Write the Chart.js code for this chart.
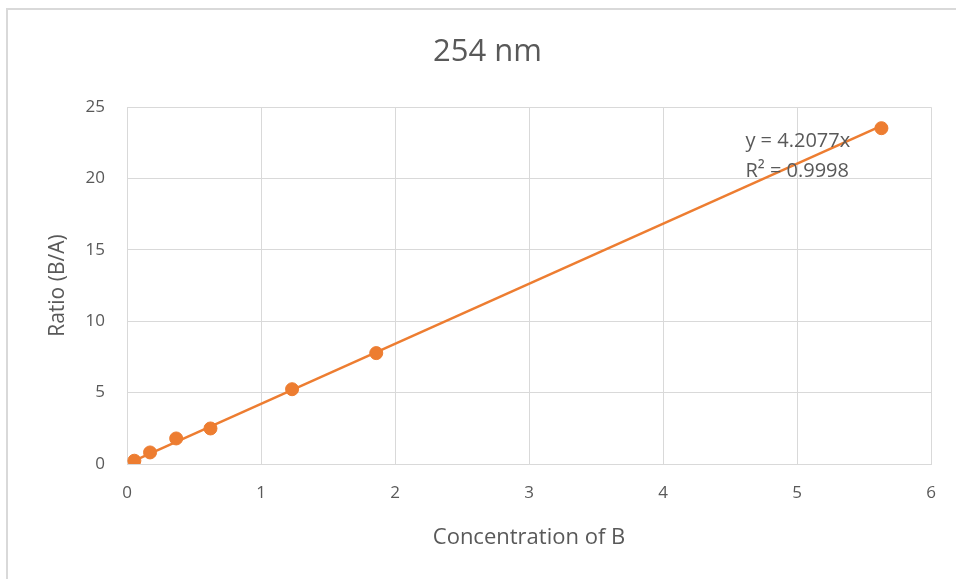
<!DOCTYPE html>
<html>
<head>
<meta charset="utf-8">
<script src="https://cdn.jsdelivr.net/npm/chart.js@4"></script>
<style>
    html, body { margin: 0; padding: 0; background: #ffffff; }
    #wrap { width: 956px; height: 579px; }
</style>
</head>
<body>
<div id="wrap"><canvas id="chart" width="956" height="579"></canvas></div>
<script>
// Datos
const concentrationB = [0.055, 0.172, 0.367, 0.623, 1.232, 1.86, 5.63];
const ratioBA = [0.23, 0.81, 1.79, 2.49, 5.24, 7.77, 23.53];

// Línea de tendencia (Excel: intersección en 0)
const trendSlope = 4.2077;
const trendR2 = 0.9998;
const trendLabels = ['y = ' + trendSlope + 'x', 'R² = ' + trendR2];

const xTicks = [0, 1, 2, 3, 4, 5, 6];
const yTicks = [0, 5, 10, 15, 20, 25];

const orange = '#ED7D31';
const gridGray = '#d9d9d9';
const textGray = '#595959';
const fontFamily = '"Open Sans", Lato, sans-serif';

const scatterPoints = concentrationB.map((x, i) => ({ x: x, y: ratioBA[i] }));
const xFirst = concentrationB[0];
const xLast = concentrationB[concentrationB.length - 1];
const trendPoints = [
    { x: xFirst, y: trendSlope * xFirst },
    { x: xLast, y: trendSlope * xLast }
];

// Marco exterior del gráfico
const outerFrame = {
    id: 'outerFrame',
    beforeDraw(chart) {
        const ctx = chart.ctx;
        ctx.save();
        ctx.fillStyle = '#ffffff';
        ctx.fillRect(0, 0, chart.width, chart.height);
        ctx.strokeStyle = gridGray;
        ctx.lineWidth = 2;
        ctx.strokeRect(7, 9, chart.width + 20, chart.height + 20);
        ctx.restore();
    }
};

// Etiqueta de la ecuación de tendencia
const trendLabel = {
    id: 'trendLabel',
    afterDatasetsDraw(chart) {
        const ctx = chart.ctx;
        const xs = chart.scales.x;
        const ys = chart.scales.y;
        const x0 = xs.getPixelForValue(4.615);
        ctx.save();
        ctx.font = '20px ' + fontFamily;
        ctx.fillStyle = textGray;
        ctx.textBaseline = 'middle';
        ctx.textAlign = 'left';
        ctx.fillText(trendLabels[0], x0, ys.getPixelForValue(22.6));
        ctx.fillText(trendLabels[1], x0, ys.getPixelForValue(20.5));
        ctx.restore();
    }
};

const ctx = document.getElementById('chart').getContext('2d');
new Chart(ctx, {
    type: 'scatter',
    data: {
        datasets: [
            {
                label: 'Trendline',
                data: trendPoints,
                showLine: true,
                borderColor: orange,
                borderWidth: 2.5,
                pointRadius: 0,
                fill: false,
                order: 2
            },
            {
                label: 'Ratio (B/A)',
                data: scatterPoints,
                backgroundColor: orange,
                borderColor: orange,
                pointRadius: 6.5,
                pointHoverRadius: 6.5,
                showLine: false,
                order: 1
            }
        ]
    },
    options: {
        responsive: false,
        animation: false,
        layout: { padding: { left: 44, right: 25, top: 0, bottom: 22 } },
        plugins: {
            legend: { display: false },
            tooltip: { enabled: false },
            title: {
                display: true,
                text: '254 nm',
                color: textGray,
                font: { family: fontFamily, size: 31, weight: 'normal' },
                padding: { top: 34, bottom: 36 }
            }
        },
        scales: {
            x: {
                type: 'linear',
                min: 0,
                max: 6,
                afterBuildTicks: (scale) => { scale.ticks = xTicks.map(v => ({ value: v })); },
                afterFit: (scale) => { scale.height = 93; },
                grid: { color: gridGray, lineWidth: 1, drawTicks: false },
                border: { color: gridGray, width: 1 },
                ticks: {
                    color: textGray,
                    padding: 19,
                    font: { family: fontFamily, size: 17 }
                },
                title: {
                    display: true,
                    text: 'Concentration of B',
                    color: textGray,
                    font: { family: fontFamily, size: 22 },
                    padding: { top: 4, bottom: 6 }
                }
            },
            y: {
                type: 'linear',
                min: 0,
                max: 25,
                afterBuildTicks: (scale) => { scale.ticks = yTicks.map(v => ({ value: v })); },
                afterFit: (scale) => { scale.width = 127 - 44; },
                grid: { color: gridGray, lineWidth: 1, drawTicks: false },
                border: { color: gridGray, width: 1 },
                ticks: {
                    color: textGray,
                    padding: 22,
                    font: { family: fontFamily, size: 17 }
                },
                title: {
                    display: true,
                    text: 'Ratio (B/A)',
                    color: textGray,
                    font: { family: fontFamily, size: 21 },
                    padding: { top: 1, bottom: 4 }
                }
            }
        }
    },
    plugins: [outerFrame, trendLabel]
});
</script>
</body>
</html>
